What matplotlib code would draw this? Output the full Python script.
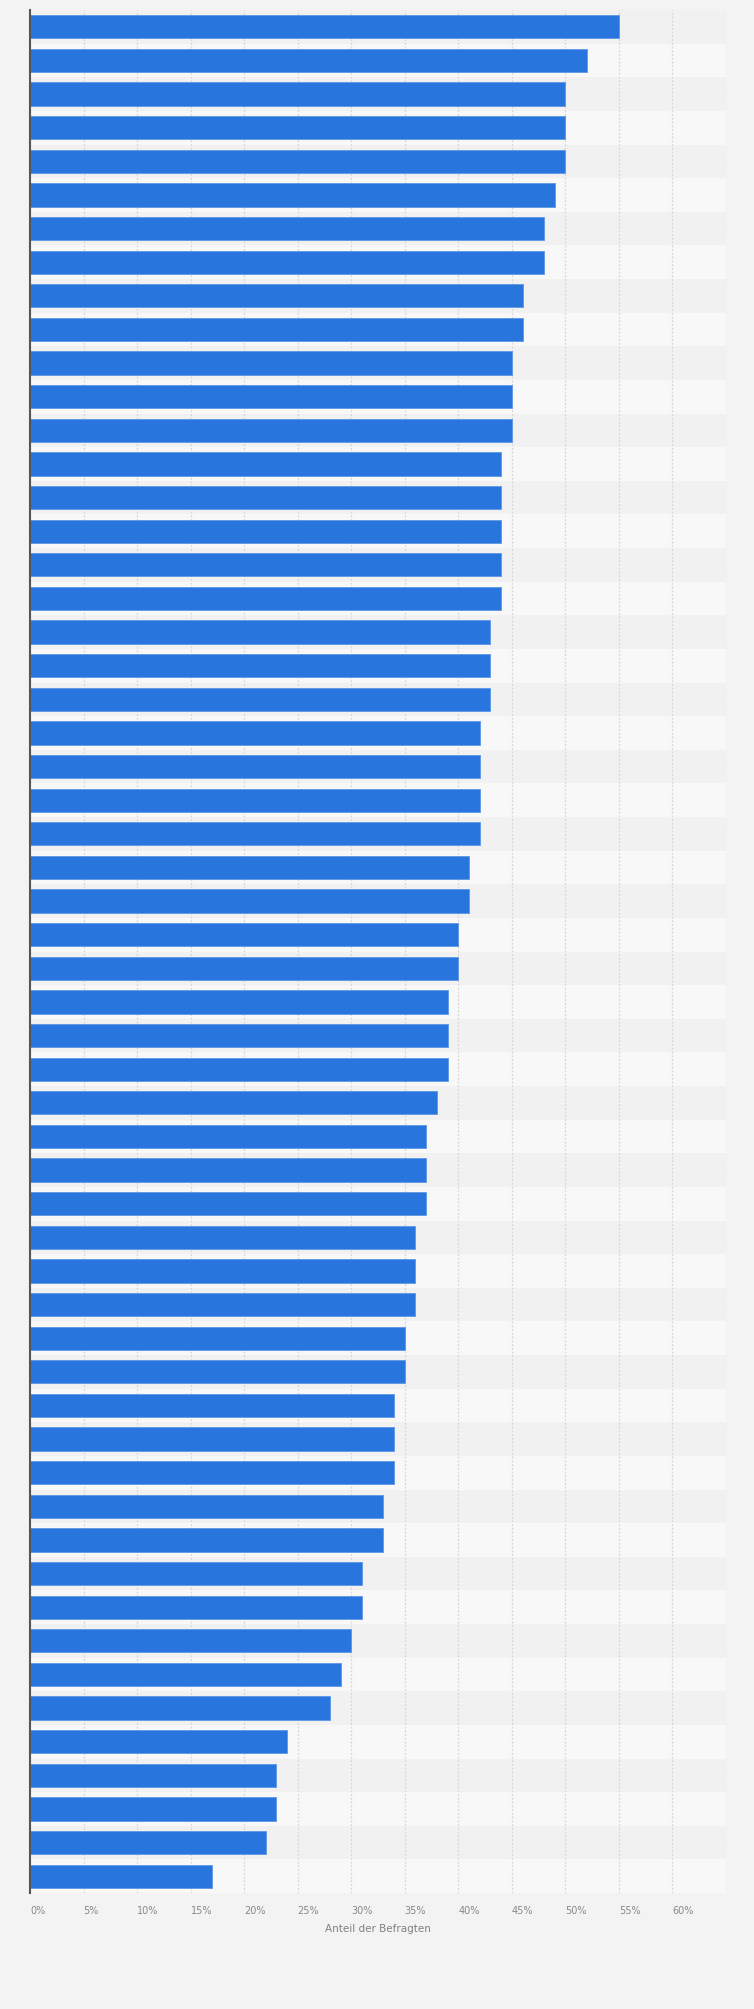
import matplotlib.pyplot as plt
import numpy as np

# share of respondents per (unlabelled) item, top to bottom
values = [55, 52, 50, 50, 50, 49, 48, 48, 46, 46,
          45, 45, 45, 44, 44, 44, 44, 44, 43, 43,
          43, 42, 42, 42, 42, 41, 41, 40, 40, 39,
          39, 39, 38, 37, 37, 37, 36, 36, 36, 35,
          35, 34, 34, 34, 33, 33, 31, 31, 30, 29,
          28, 24, 23, 23, 22, 17]
tick_values = list(range(0, 65, 5))
tick_labels = [f'{t}%' for t in tick_values]
grid_values = list(range(0, 70, 5))
x_label = 'Anteil der Befragten'

W, H = 754, 2009
fig = plt.figure(figsize=(W / 100, H / 100), dpi=100)
fig.patch.set_facecolor('#f3f3f3')

left, right, top, bottom = 30, 726, 10, 1893
ax = fig.add_axes([left / W, (H - bottom) / H, (right - left) / W, (bottom - top) / H])
ax.set_facecolor('#f3f3f3')

n = len(values)
y = np.arange(n)
for i in y:
    ax.axhspan(i - 0.5, i + 0.5, color='#f1f1f1' if i % 2 == 0 else '#f8f8f8', zorder=0, lw=0)

for g in grid_values:
    ax.axvline(g, color='#d6d6d6', lw=0.9, ls=(0, (1.5, 1.5)), zorder=1)

ax.barh(y, values, height=0.69, color='#2876dd', edgecolor='#5d97e4', linewidth=0.6, zorder=2)

ax.set_xlim(0, 65)
ax.set_ylim(n - 0.5, -0.5)
ax.set_yticks([])
ax.set_xticks(tick_values)
ax.set_xticklabels(tick_labels, ha='left', fontsize=7, color='#888888')
ax.tick_params(axis='x', length=0, pad=9)
ax.set_xlabel(x_label, fontsize=7.5, color='#808080', labelpad=6)

for s in ['top', 'right', 'bottom']:
    ax.spines[s].set_visible(False)
ax.spines['left'].set_color('#555555')
ax.spines['left'].set_linewidth(1.5)
ax.spines['left'].set_zorder(3)

fig.savefig('out.png', dpi=100, facecolor=fig.get_facecolor())
